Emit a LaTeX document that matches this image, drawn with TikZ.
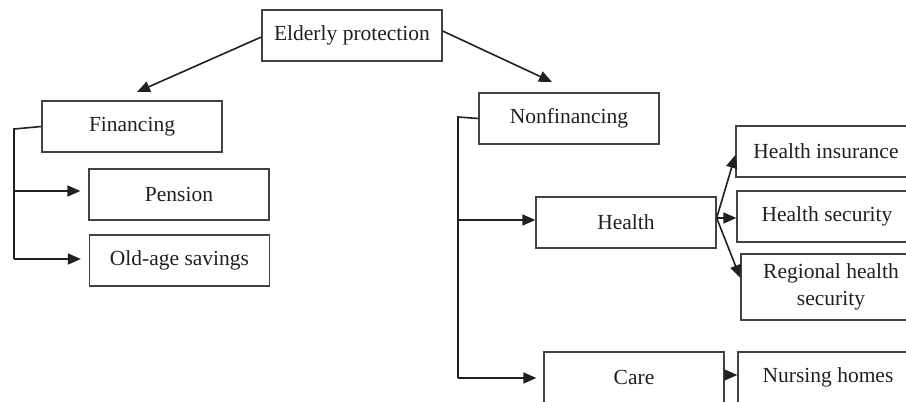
\documentclass[tikz,border=0pt]{standalone}
\usepackage{fontspec}
\setmainfont{Liberation Serif}
\usetikzlibrary{arrows.meta,calc}
\definecolor{ink}{HTML}{231F20}
\begin{document}
\begin{tikzpicture}[x=1pt,y=-1pt,
  box/.style={draw=ink!85,line width=1.3pt,minimum width=180pt,minimum height=51pt,inner sep=0pt,
    text=ink,font=\fontsize{21.5}{27}\selectfont,align=center},
  link/.style={draw=ink,line width=1.6pt},
  arr/.style={link,-{Triangle[length=13pt,width=11pt]}}]
\useasboundingbox (0,0) rectangle (906,402);
\clip (0,0) rectangle (906,402);
\node[box] (ep) at (352,35.5) {Elderly protection};
\node[box] (fin) at (132,126.5) {Financing};
\node[box] (pen) at (179,194.5) {Pension};
\node[box] (old) at (179.5,260.5) {Old-age savings};
\node[box] (non) at (569,118.5) {Nonfinancing};
\node[box] (hea) at (626,222.5) {Health};
\node[box] (hi) at (826,151.5) {Health insurance};
\node[box] (hs) at (827,216.5) {Health security};
\node[box,minimum height=66pt] (rhs) at (831,287) {Regional health\\security};
\node[box] (care) at (634,377.5) {Care};
\node[box] (nh) at (828,377.5) {Nursing homes};
% top arrows
\coordinate (finin) at (137,92);
\coordinate (nonin) at (552,82);
\draw[arr] ($(ep.west)+(0,1.5)$) -- (finin);
\draw[arr] ($(ep.east)+(0,-4.5)$) -- (nonin);
% financing bracket
\coordinate (fa) at (14,129);
\coordinate (fp) at (14,191);
\coordinate (fo) at (14,259);
\draw[link] (fin.west) -- (fa) -- (fo);
\draw[arr,shorten >=8pt] (fp) -- (fp -| pen.west);
\draw[arr,shorten >=8pt] (fo) -- (fo -| old.west);
% nonfinancing bracket
\coordinate (na) at (458,117);
\coordinate (nb) at (458,220);
\coordinate (nc) at (458,378);
\draw[link] (non.west) -- (na) -- (nc);
\draw[arr] (nb) -- (nb -| hea.west);
\draw[arr,shorten >=7pt] (nc) -- (nc -| care.west);
% health fan
\coordinate (hsrc) at ($(hea.east)+(0,-4.5)$);
\draw[arr] (hsrc) -- ($(hi.west)+(0,3.5)$);
\draw[arr] (hsrc) -- ($(hs.west)+(0,1.5)$);
\draw[arr] (hsrc) -- ($(rhs.west)+(0,-9)$);
% care to nursing homes
\draw[arr] ($(care.east)+(0,-2.5)$) -- ($(nh.west)+(0,-2.5)$);
\end{tikzpicture}
\end{document}
